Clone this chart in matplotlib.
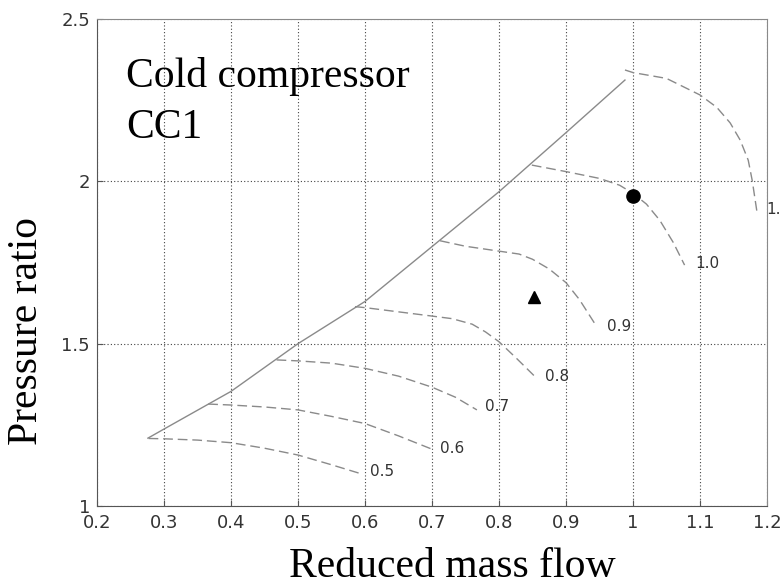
import matplotlib
matplotlib.use("Agg")
import matplotlib.pyplot as plt

# surge line
surge_flow = [0.276, 0.30, 0.40, 0.50, 0.60, 0.70, 0.80, 0.90, 0.988]
surge_pr = [1.209, 1.237, 1.353, 1.500, 1.630, 1.799, 1.968, 2.150, 2.312]

# speed lines (reduced speed)
flow_05 = [0.277, 0.30, 0.35, 0.40, 0.45, 0.50, 0.55, 0.593]
pr_05 = [1.208, 1.207, 1.203, 1.195, 1.178, 1.157, 1.127, 1.100]
flow_06 = [0.366, 0.40, 0.45, 0.50, 0.55, 0.60, 0.65, 0.70]
pr_06 = [1.314, 1.311, 1.305, 1.296, 1.276, 1.254, 1.216, 1.175]
flow_07 = [0.468, 0.50, 0.55, 0.60, 0.65, 0.70, 0.735, 0.767]
pr_07 = [1.450, 1.447, 1.440, 1.424, 1.400, 1.366, 1.335, 1.296]
flow_08 = [0.585, 0.60, 0.65, 0.70, 0.73, 0.76, 0.78, 0.80, 0.826, 0.854]
pr_08 = [1.614, 1.611, 1.598, 1.585, 1.577, 1.560, 1.536, 1.506, 1.455, 1.398]
flow_09 = [0.712, 0.75, 0.80, 0.83, 0.85, 0.875, 0.90, 0.92, 0.946]
pr_09 = [1.817, 1.800, 1.785, 1.776, 1.760, 1.730, 1.688, 1.636, 1.552]
flow_10 = [0.849, 0.90, 0.95, 0.98, 1.00, 1.02, 1.04, 1.06, 1.077]
pr_10 = [2.050, 2.030, 2.009, 1.988, 1.963, 1.930, 1.880, 1.812, 1.742]
flow_11 = [0.988, 1.00, 1.05, 1.10, 1.125, 1.145, 1.16, 1.172, 1.178, 1.185]
pr_11 = [2.343, 2.335, 2.317, 2.266, 2.228, 2.180, 2.127, 2.065, 2.002, 1.906]

speed_labels = ["0.5", "0.6", "0.7", "0.8", "0.9", "1.0", "1.1"]
label_flow = [0.607, 0.712, 0.779, 0.869, 0.961, 1.093, 1.199]
label_pr = [1.106, 1.178, 1.306, 1.400, 1.552, 1.747, 1.912]

# operating points
point_circle = (1.0, 1.955)
point_triangle = (0.852, 1.645)

xticks = [0.2, 0.3, 0.4, 0.5, 0.6, 0.7, 0.8, 0.9, 1.0, 1.1, 1.2]
xticklabels = ["0.2", "0.3", "0.4", "0.5", "0.6", "0.7", "0.8", "0.9", "1", "1.1", "1.2"]
yticks = [1.0, 1.5, 2.0, 2.5]
yticklabels = ["1", "1.5", "2", "2.5"]

SERIF = "Liberation Serif"
LINE = "#8a8a8a"

fig = plt.figure(figsize=(7.82, 5.85), dpi=100)
ax = fig.add_axes([97 / 782, 79 / 585, 670 / 782, 487 / 585])

ax.plot(surge_flow, surge_pr, color=LINE, lw=1.0)
speeds = [(flow_05, pr_05), (flow_06, pr_06), (flow_07, pr_07), (flow_08, pr_08),
          (flow_09, pr_09), (flow_10, pr_10), (flow_11, pr_11)]
for fl, pr in speeds:
    ax.plot(fl, pr, color=LINE, lw=1.0, dashes=(7, 3.5))
for lab, x, y in zip(speed_labels, label_flow, label_pr):
    ax.text(x, y, lab, fontsize=11, color="#333333", ha="left", va="center")

ax.plot(*point_circle, "o", color="black", ms=9.5)
ax.plot(*point_triangle, "^", color="black", ms=9)

ax.set_xlim(0.2, 1.2)
ax.set_ylim(1.0, 2.5)
ax.set_xticks(xticks)
ax.set_xticklabels(xticklabels)
ax.set_yticks(yticks)
ax.set_yticklabels(yticklabels)
ax.tick_params(direction="in", length=4, colors="#555555", labelcolor="#333333",
               labelsize=13)
ax.tick_params(axis="x", pad=6)
ax.tick_params(axis="y", pad=5)
ax.grid(True, color="#444444", lw=0.8, dashes=(1, 2))
for side in ["left", "bottom"]:
    ax.spines[side].set_color("#555555")
for side in ["top", "right"]:
    ax.spines[side].set_color("#8a8a8a")

fig.text(126 / 782, 1 - 87 / 585, "Cold compressor", family=SERIF, fontsize=30,
         va="baseline", ha="left")
fig.text(126 / 782, 1 - 138 / 585, "CC1", family=SERIF, fontsize=30,
         va="baseline", ha="left")
fig.text(452 / 782, 1 - 577 / 585, "Reduced mass flow", family=SERIF, fontsize=30,
         va="baseline", ha="center")
fig.text(27 / 782, 1 - 331 / 585, "Pressure ratio", family=SERIF, fontsize=30,
         rotation=90, va="center", ha="center")

fig.savefig("out.png", dpi=100)
